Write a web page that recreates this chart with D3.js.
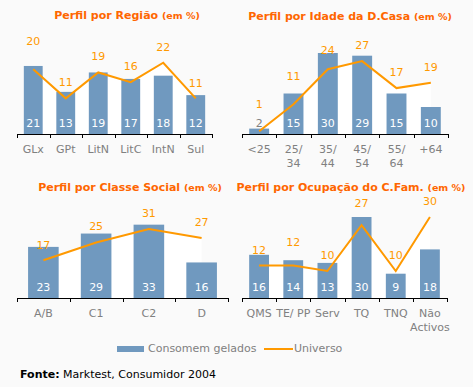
<!DOCTYPE html>
<html>
<head>
<meta charset="utf-8">
<script src="https://d3js.org/d3.v7.min.js"></script>
<style>
  body { margin: 0; background: #fafafa; }
  svg { display: block; font-family: "DejaVu Sans", Verdana, sans-serif; }
</style>
</head>
<body>
<svg id="chart" width="473" height="387"></svg>
<script>
// dados
const regiaoCats = ["GLx", "GPt", "LitN", "LitC", "IntN", "Sul"];
const regiaoGelados = [21, 13, 19, 17, 18, 12];
const regiaoUniverso = [20, 11, 19, 16, 22, 11];

const idadeCats = ["<25", "25/\n34", "35/\n44", "45/\n54", "55/\n64", "+64"];
const idadeGelados = [2, 15, 30, 29, 15, 10];
const idadeUniverso = [1, 11, 24, 27, 17, 19];

const classeCats = ["A/B", "C1", "C2", "D"];
const classeGelados = [23, 29, 33, 16];
const classeUniverso = [17, 25, 31, 27];

const ocupCats = ["QMS", "TE/ PP", "Serv", "TQ", "TNQ", "Não\nActivos"];
const ocupGelados = [16, 14, 13, 30, 9, 18];
const ocupUniverso = [12, 12, 10, 27, 10, 30];

// layout (label lift = px above the line point)
const panels = [
  {title: "Perfil por Região", cats: regiaoCats, bars: regiaoGelados, line: regiaoUniverso,
   x0: 17, x1: 212, base: 134, h: 81, max: 25, tx: 127, ty: 19, lift: [28, 16, 16, 16, 16, 15]},
  {title: "Perfil por Idade da D.Casa", cats: idadeCats, bars: idadeGelados, line: idadeUniverso,
   x0: 242, x1: 448, base: 134, h: 81, max: 30, tx: 350, ty: 20, lift: [27, 28, 19, 16, 16, 16]},
  {title: "Perfil por Classe Social", cats: classeCats, bars: classeGelados, line: classeUniverso,
   x0: 17, x1: 228, base: 298, h: 80, max: 36, tx: 130, ty: 191, lift: [15, 16, 16, 16]},
  {title: "Perfil por Ocupação do C.Fam.", cats: ocupCats, bars: ocupGelados, line: ocupUniverso,
   x0: 242, x1: 447, base: 298, h: 81, max: 30, tx: 351, ty: 191, lift: [16, 24, 16, 22, 16, 16]}
];

const barColor = "#7099bf";
const lineColor = "#ff9900";
const gray = "#808080";

const svg = d3.select("#chart");
svg.append("rect").attr("width", 473).attr("height", 387).attr("fill", "#fafafa");

panels.forEach(p => {
  const g = svg.append("g");
  const x = d3.scaleBand().domain(p.cats).range([p.x0, p.x1]).paddingInner(0.42).paddingOuter(0.21);
  const y = d3.scaleLinear().domain([0, p.max]).range([p.base, p.base - p.h]);
  const cx = c => x(c) + x.bandwidth() / 2;
  const pts = p.cats.map((c, i) => [cx(c), y(p.line[i])]);

  // titulo
  const t = g.append("text").attr("x", p.tx).attr("y", p.ty).attr("text-anchor", "middle")
    .attr("fill", "#ff6600").attr("font-weight", "bold");
  t.append("tspan").attr("font-size", 11).text(p.title + " ");
  t.append("tspan").attr("font-size", 9.5).text("(em %)");

  // area branca sob a linha
  g.append("path")
    .attr("d", d3.area().x(d => d[0]).y0(p.base).y1(d => d[1])(pts))
    .attr("fill", "#ffffff");

  // barras
  g.selectAll(".bar").data(p.bars).enter().append("rect")
    .attr("x", (d, i) => x(p.cats[i]))
    .attr("y", d => y(d))
    .attr("width", x.bandwidth())
    .attr("height", d => p.base - y(d))
    .attr("fill", barColor);

  // valores das barras
  g.selectAll(".bv").data(p.bars).enter().append("text")
    .attr("x", (d, i) => cx(p.cats[i]))
    .attr("y", p.base - 7)
    .attr("text-anchor", "middle")
    .attr("font-size", 11)
    .attr("fill", d => (p.base - y(d) > 14 ? "#ffffff" : gray))
    .text(d => d);

  // linha universo
  g.append("path")
    .attr("d", d3.line()(pts))
    .attr("fill", "none")
    .attr("stroke", lineColor)
    .attr("stroke-width", 2);

  g.selectAll(".lv").data(p.line).enter().append("text")
    .attr("x", (d, i) => pts[i][0])
    .attr("y", (d, i) => pts[i][1] - p.lift[i] + 4)
    .attr("text-anchor", "middle")
    .attr("font-size", 11)
    .attr("fill", lineColor)
    .text(d => d);

  // eixo
  g.append("line").attr("x1", p.x0).attr("x2", p.x1).attr("y1", p.base + 0.5).attr("y2", p.base + 0.5)
    .attr("stroke", "#000");
  const step = x.step();
  d3.range(p.cats.length + 1).forEach(i => {
    const tx = Math.round(p.x0 + i * step) + 0.5;
    g.append("line").attr("x1", tx).attr("x2", tx).attr("y1", p.base).attr("y2", p.base + 4)
      .attr("stroke", "#000");
  });

  p.cats.forEach(c => {
    const lab = g.append("text").attr("x", cx(c)).attr("y", p.base + 19)
      .attr("text-anchor", "middle").attr("font-size", 11).attr("fill", gray);
    c.split("\n").forEach((s, j) => {
      lab.append("tspan").attr("x", cx(c)).attr("dy", j ? 13.5 : 0).text(s);
    });
  });
});

// legenda
const leg = svg.append("g");
leg.append("rect").attr("x", 117).attr("y", 346).attr("width", 27).attr("height", 6).attr("fill", barColor);
leg.append("text").attr("x", 148).attr("y", 352).attr("font-size", 11).attr("fill", gray).text("Consomem gelados");
leg.append("line").attr("x1", 264).attr("x2", 293).attr("y1", 349).attr("y2", 349)
  .attr("stroke", lineColor).attr("stroke-width", 2);
leg.append("text").attr("x", 294).attr("y", 352).attr("font-size", 11).attr("fill", gray).text("Universo");

// fonte
const src = svg.append("text").attr("x", 20).attr("y", 378).attr("font-size", 11).attr("fill", "#000");
src.append("tspan").attr("font-weight", "bold").text("Fonte:");
src.append("tspan").text(" Marktest, Consumidor 2004");
</script>
</body>
</html>
